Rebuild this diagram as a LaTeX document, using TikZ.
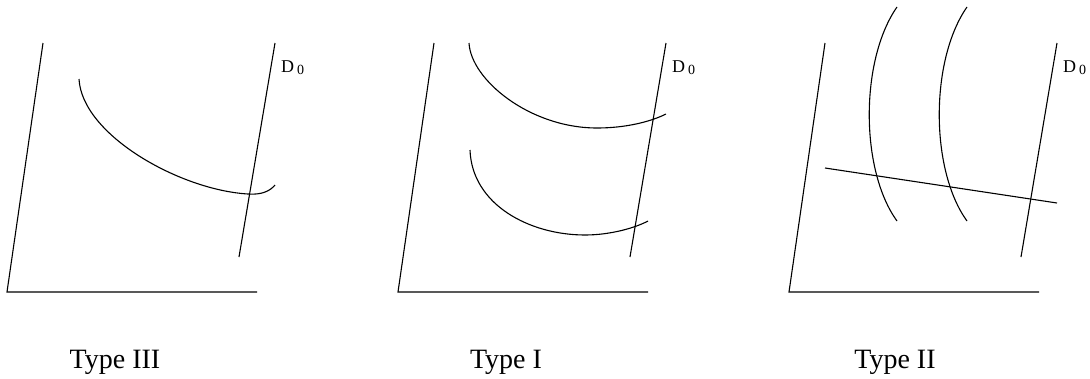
\documentclass[tikz,border=0pt]{standalone}
\usepackage{fontspec}
\setmainfont{Liberation Serif}
\usetikzlibrary{positioning}
\tikzset{
  curve/.style={line width=1.1pt},
  axis/.style={line width=1.1pt},
  dlabel/.style={font=\fontsize{18}{20}\selectfont,inner sep=0pt,anchor=west},
  typelabel/.style={font=\fontsize{28}{32}\selectfont,inner sep=0pt,anchor=base},
}
\newcommand{\dnought}{D\,\raisebox{-2pt}{\fontsize{14}{14}\selectfont 0}}

\begin{document}
\begin{tikzpicture}[x=1pt,y=-1pt]
  \useasboundingbox (0,0) rectangle (1090,378);
  % Type III
  \coordinate (ya) at (43,43); \coordinate (oa) at (7,292); \coordinate (xa) at (257,292);
  \coordinate (da) at (275,43); \coordinate (dba) at (239,257);
  \draw[axis] (ya)--(oa)--(xa);
  \draw[axis] (da)--(dba);
  \node[dlabel] (la) at (281,68) {\dnought};
  \draw[curve] (79,79) .. controls (82,135) and (180,190) .. (248,194)
                       .. controls (262,195) and (270,191) .. (275,185);
  \node[typelabel] (ta) at (115,368) {Type III};
  % Type I
  \coordinate (yb) at (434,43); \coordinate (ob) at (398,292); \coordinate (xb) at (648,292);
  \coordinate (db) at (666,43); \coordinate (dbb) at (630,257);
  \draw[axis] (yb)--(ob)--(xb);
  \draw[axis] (db)--(dbb);
  \node[dlabel] (lb) at (672,68) {\dnought};
  \draw[curve] (469,43) .. controls (471,80) and (530,128) .. (597,128)
                        .. controls (625,128) and (650,122) .. (666,114);
  \draw[curve] (470,150) .. controls (472,205) and (530,235) .. (585,235)
                         .. controls (610,235) and (635,228) .. (648,221);
  \node[typelabel] (tb) at (506,368) {Type I};
  % Type II
  \coordinate (yc) at (825,43); \coordinate (oc) at (789,292); \coordinate (xc) at (1039,292);
  \coordinate (dc) at (1057,43); \coordinate (dbc) at (1021,257);
  \draw[axis] (yc)--(oc)--(xc);
  \draw[axis] (dc)--(dbc);
  \node[dlabel] (lc) at (1063,68) {\dnought};
  \draw[curve] (897,7) .. controls (860,60) and (860,170) .. (897,221);
  \draw[curve] (967,7) .. controls (930,60) and (930,170) .. (967,221);
  \draw[curve] (825,168) -- (1057,203);
  \node[typelabel] (tc) at (895,368) {Type II};
\end{tikzpicture}
\end{document}
